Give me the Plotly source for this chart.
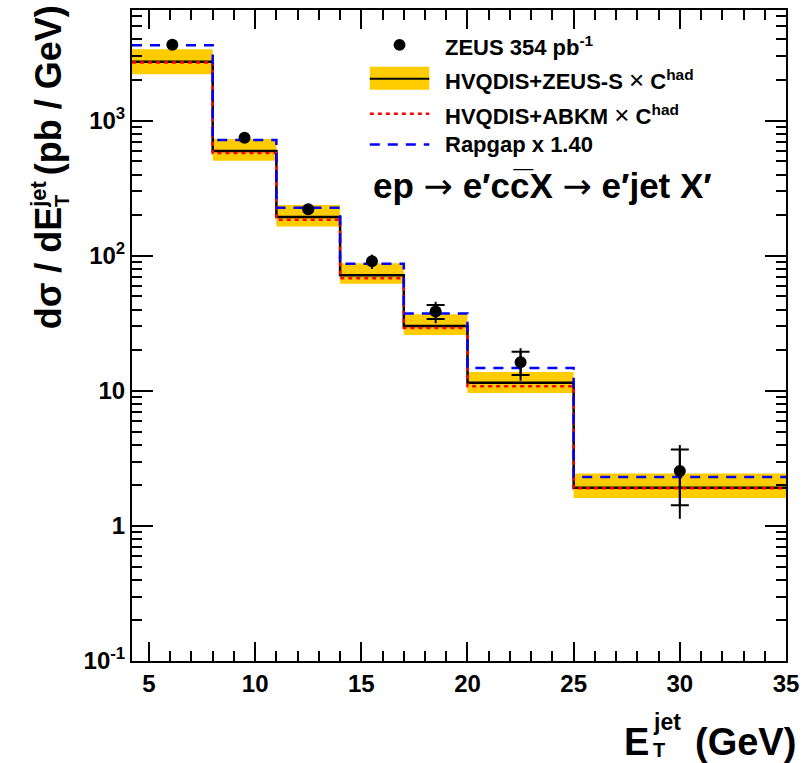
import plotly.graph_objects as go

# ---------------- data ----------------
bin_edges = [4.2, 8, 11, 14, 17, 20, 25, 35]
x_data = [6.1, 9.5, 12.5, 15.5, 18.5, 22.5, 30.0]
y_data = [3660, 748, 221, 91, 38.7, 16.3, 2.55]
stat_err = [50, 15, 5, 3, 4.6, 3.2, 1.13]
tot_err = [200, 45, 14, 11, 7.0, 4.4, 1.42]
zeus_s = [2730, 597, 194, 71.9, 30.2, 11.5, 1.92]
zeus_s_hi = [3390, 733, 238, 88, 37.0, 13.8, 2.45]
zeus_s_lo = [2210, 506, 165, 62, 25.9, 9.66, 1.61]
abkm = [2700, 577, 185, 68.3, 29.2, 10.8, 1.90]
rapgap = [3620, 720, 227, 87.3, 37.4, 14.8, 2.30]

y_tickvals = [0.1, 1, 10, 100, 1000]
y_ticktext = ["10<sup>-1</sup>", "1", "10", "10<sup>2</sup>", "10<sup>3</sup>"]
x_tickvals = [5, 10, 15, 20, 25, 30, 35]

W, H = 807, 763
L, R, T, B = 132, 15, 8, 102
PW, PH = W - L - R, H - T - B
FONT = "Liberation Sans"
BAND = "#FFCC00"


def px(x):
    return (x - L) / PW


def py(y):
    return (H - B - y) / PH


def step_xy(vals):
    return list(bin_edges[:-1]) + [bin_edges[-1]], list(vals) + [vals[-1]]


fig = go.Figure()

# band
bx, by = [], []
for i in range(len(zeus_s)):
    x0, x1 = bin_edges[i], bin_edges[i + 1]
    bx += [x0, x1, x1, x0, x0, None]
    by += [zeus_s_lo[i], zeus_s_lo[i], zeus_s_hi[i], zeus_s_hi[i], zeus_s_lo[i], None]
fig.add_trace(go.Scatter(x=bx, y=by, mode="lines", fill="toself", fillcolor=BAND,
                         line=dict(width=0, color=BAND), hoverinfo="skip"))

sx, sy = step_xy(zeus_s)
fig.add_trace(go.Scatter(x=sx, y=sy, mode="lines", line_shape="hv",
                         line=dict(color="black", width=2.5)))
sx, sy = step_xy(abkm)
fig.add_trace(go.Scatter(x=sx, y=sy, mode="lines", line_shape="hv",
                         line=dict(color="#FF0000", width=2.5, dash="4px,4px")))
sx, sy = step_xy(rapgap)
fig.add_trace(go.Scatter(x=sx, y=sy, mode="lines", line_shape="hv",
                         line=dict(color="#0000FF", width=2.5, dash="10px,8px")))

# error bars (bars hidden behind the marker are not drawn, as in ROOT)
vis = [s / v > 0.06 for s, v in zip(stat_err, y_data)]
fig.add_trace(go.Scatter(x=x_data, y=y_data, mode="markers",
                         marker=dict(size=1, color="rgba(0,0,0,0)"),
                         error_y=dict(type="data", array=tot_err, color="black",
                                      thickness=2, width=0)))
fig.add_trace(go.Scatter(x=[x for x, v in zip(x_data, vis) if v],
                         y=[y for y, v in zip(y_data, vis) if v],
                         mode="markers",
                         marker=dict(size=1, color="rgba(0,0,0,0)"),
                         error_y=dict(type="data",
                                      array=[e for e, v in zip(stat_err, vis) if v],
                                      color="black", thickness=2, width=9)))
fig.add_trace(go.Scatter(x=x_data, y=y_data, mode="markers",
                         marker=dict(size=12, color="black")))

fig.update_layout(
    width=W, height=H, showlegend=False,
    margin=dict(l=L, r=R, t=T, b=B),
    paper_bgcolor="white", plot_bgcolor="white",
    font=dict(family=FONT, color="black", size=24, weight="bold"),
)
fig.update_xaxes(range=[4.2, 35], showgrid=False, zeroline=False,
                 showline=True, linecolor="black", linewidth=2, mirror="allticks",
                 ticks="inside", ticklen=19, tickwidth=1.5, tickcolor="black",
                 tickvals=x_tickvals,
                 tickfont=dict(family=FONT, size=24, weight="bold"),
                 minor=dict(ticks="inside", ticklen=10, dtick=1, tickwidth=1.5,
                            tickcolor="black", showgrid=False))
fig.update_yaxes(type="log", range=[-1, 3.82], showgrid=False, zeroline=False,
                 showline=True, linecolor="black", linewidth=2, mirror="allticks",
                 ticks="inside", ticklen=21, tickwidth=1.5, tickcolor="black",
                 tickvals=y_tickvals, ticktext=y_ticktext,
                 tickfont=dict(family=FONT, size=24, weight="bold"),
                 minor=dict(ticks="inside", ticklen=10, dtick="D1", tickwidth=1.5,
                            tickcolor="black", showgrid=False))

ann = []
shapes = []


def text(x, y, s, size, xanchor="left", yanchor="middle", angle=0):
    ann.append(dict(x=px(x), y=py(y), xref="paper", yref="paper", text=s,
                    showarrow=False, xanchor=xanchor, yanchor=yanchor,
                    textangle=angle,
                    font=dict(family=FONT, size=size, color="black", weight="bold")))


# legend
shapes.append(dict(type="circle", xref="paper", yref="paper",
                   x0=px(396), x1=px(408), y0=py(49), y1=py(37),
                   fillcolor="black", line=dict(width=0)))
text(446, 44, "ZEUS 354 pb<sup>-1</sup>", 22)
shapes.append(dict(type="rect", xref="paper", yref="paper",
                   x0=px(372), x1=px(432), y0=py(88), y1=py(65),
                   fillcolor=BAND, line=dict(width=0)))
shapes.append(dict(type="line", xref="paper", yref="paper",
                   x0=px(372), x1=px(432), y0=py(77), y1=py(77),
                   line=dict(color="black", width=2)))
times = '<span style="font-weight:normal;font-size:26px">×</span>'
text(446, 78, "HVQDIS+ZEUS-S " + times + " C<sup>had</sup>", 22)
shapes.append(dict(type="line", xref="paper", yref="paper",
                   x0=px(372), x1=px(432), y0=py(112), y1=py(112),
                   line=dict(color="#FF0000", width=2.5, dash="4px,4px")))
text(446, 113, "HVQDIS+ABKM " + times + " C<sup>had</sup>", 22)
shapes.append(dict(type="line", xref="paper", yref="paper",
                   x0=px(372), x1=px(432), y0=py(143), y1=py(143),
                   line=dict(color="#0000FF", width=2.5, dash="10px,8px")))
text(446, 143, "Rapgap x 1.40", 22)

# process
arrow = '<span style="font-family:DejaVu Sans;font-weight:normal">→</span>'
text(373, 185, "ep " + arrow + " e′cc\u0305X " + arrow + " e′jet X′", 35)

# x title
text(656, 742, "E", 38, xanchor="right")
text(656, 722, "jet", 23)
text(656, 750, "T", 20)
text(804, 742, "(GeV)", 38, xanchor="right")

# y title (rotated)
text(48, 330, "dσ / dE", 36, xanchor="center", yanchor="bottom", angle=-90)
text(38, 208, "jet", 22, xanchor="center", yanchor="bottom", angle=-90)
text(62, 208, "T", 20, xanchor="center", yanchor="bottom", angle=-90)
text(48, 176, "(pb / GeV)", 36, xanchor="center", yanchor="bottom", angle=-90)

fig.update_layout(annotations=ann, shapes=shapes)
fig.write_html("out.html")
